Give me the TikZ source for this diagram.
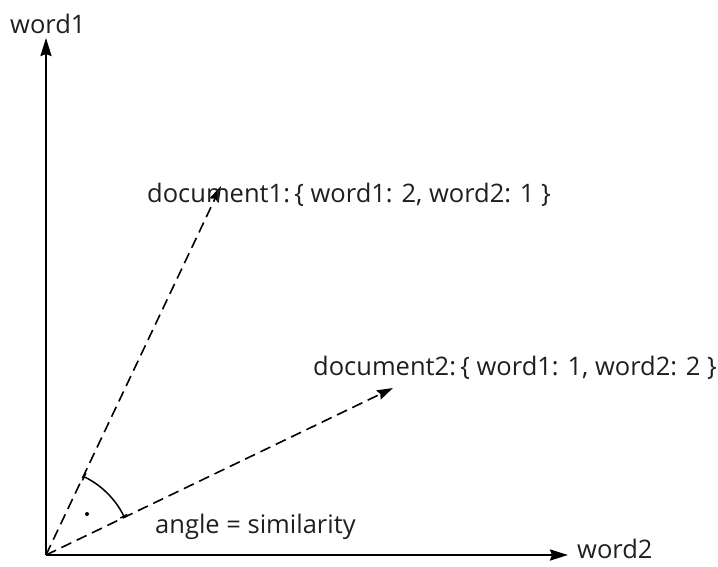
\documentclass[tikz,border=0pt]{standalone}
\usepackage{fontspec}
\setmainfont{Open Sans}
\usetikzlibrary{arrows.meta}
\begin{document}
\begin{tikzpicture}[x=1pt,y=-1pt,
  lbl/.style={anchor=base west,inner sep=0pt,font=\fontsize{25.5}{28}\selectfont,text=black!88},
  axis/.style={line width=2.3pt,-{Stealth[length=18pt,width=11pt,inset=2pt]}},
  vec/.style={line width=1.6pt,dash pattern=on 11pt off 6pt,-{Stealth[length=16pt,width=10pt,inset=2pt]}}]
\useasboundingbox (0,0) rectangle (718,566);
\coordinate (O) at (46,555);
\coordinate (Y) at (46,38);
\coordinate (X) at (568,555);
\coordinate (D1) at (221,186);
\coordinate (D2) at (393,388);
\draw[axis] (O) -- (Y);
\draw[axis] (O) -- (X);
\draw[vec] (O) -- (D1);
\draw[vec] (O) -- (D2);
\node[lbl] (w1) at (10,33) {word1};
\node[lbl] (w2) at (577,558) {word2};
\node[lbl] (d1l) at (147,202) {document1:\,\{ word1: 2, word2: 1 \}};
\node[lbl] (d2l) at (313,375) {document2:\,\{ word1: 1, word2: 2 \}};
\node[lbl] (ang) at (155,533) {angle = similarity};
\draw[line width=1.5pt,{Bar[width=8pt]}-{Bar[width=8pt]}] (O) ++(64.5:87pt) arc[start angle=64.5,end angle=26,radius=87pt];
\path (O) ++(45:58pt) coordinate (dotc);
\fill (dotc) circle (2pt);
\end{tikzpicture}
\end{document}
